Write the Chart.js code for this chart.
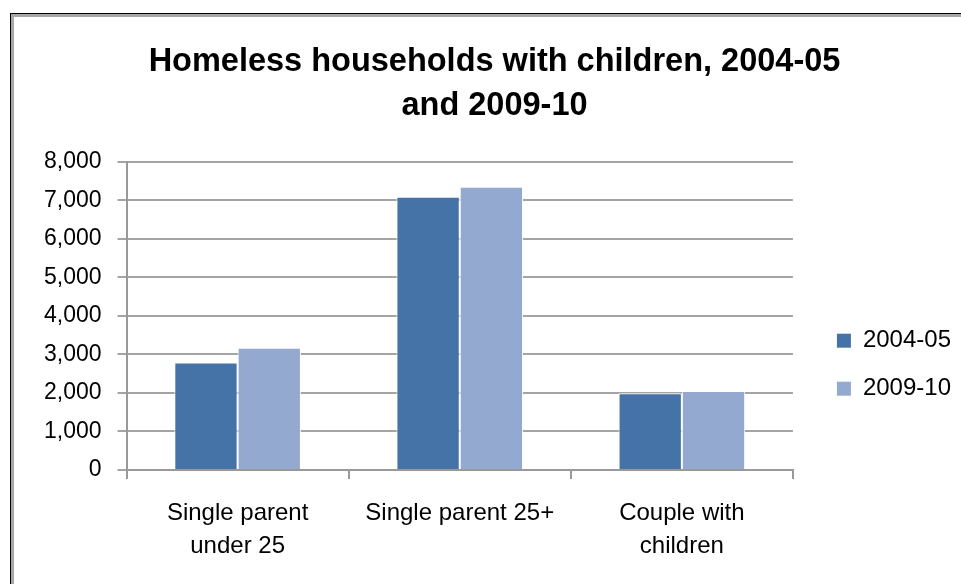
<!DOCTYPE html>
<html>
<head>
<meta charset="utf-8">
<script src="https://cdn.jsdelivr.net/npm/chart.js@4"></script>
<style>
    html, body { margin: 0; padding: 0; background: #fff; overflow: hidden; }
    #frame {
        position: absolute;
        left: 10px; top: 13px;
        width: 980px; height: 600px;
        border: 1px solid #000;
        box-shadow: inset 3px 3px 0 #a8a8a8;
        box-sizing: border-box;
    }
    #wrap { position: absolute; left: 0; top: 0; width: 961px; height: 584px; }
</style>
</head>
<body>
<div id="frame"></div>
<div id="wrap"><canvas id="chart"></canvas></div>
<script>
// Chart data
const categories = [['Single parent', 'under 25'], 'Single parent 25+', ['Couple with', 'children']];
const seriesNames = ['2004-05', '2009-10'];
const values2004 = [2790, 7090, 1990];
const values2009 = [3170, 7350, 2050];
const yTicks = [0, 1000, 2000, 3000, 4000, 5000, 6000, 7000, 8000];

const colors = ['#4572A7', '#93A9CF'];
const font = "'Liberation Sans', Arial, sans-serif";

const ctx = document.getElementById('chart').getContext('2d');
new Chart(ctx, {
    type: 'bar',
    data: {
        labels: categories,
        datasets: [
            {
                label: seriesNames[0],
                data: values2004,
                backgroundColor: colors[0],
                borderColor: '#ffffff',
                borderWidth: 1,
            },
            {
                label: seriesNames[1],
                data: values2009,
                backgroundColor: colors[1],
                borderColor: '#ffffff',
                borderWidth: 1,
            }
        ]
    },
    options: {
        responsive: true,
        maintainAspectRatio: false,
        animation: false,
        categoryPercentage: 0.57,
        barPercentage: 1.0,
        layout: {
            padding: { left: 28, right: 0, top: 40, bottom: 3 }
        },
        plugins: {
            title: {
                display: true,
                text: ['Homeless households with children, 2004-05', 'and 2009-10'],
                color: '#000',
                font: { family: font, size: 32.5, weight: 'bold', lineHeight: 1.35 },
                padding: { top: 0, bottom: 34 }
            },
            legend: {
                position: 'right',
                // empty title only pushes the items down
                title: {
                    display: true,
                    text: ' ',
                    font: { size: 12, lineHeight: 1.2 },
                    padding: { top: 47, bottom: 47 }
                },
                labels: {
                    color: '#000',
                    font: { family: font, size: 24 },
                    boxWidth: 14,
                    boxHeight: 14,
                    padding: 24,
                    generateLabels: (chart) => chart.data.datasets.map((ds, i) => ({
                        text: ds.label,
                        fillStyle: ds.backgroundColor,
                        strokeStyle: ds.backgroundColor,
                        lineWidth: 0,
                        datasetIndex: i,
                        fontColor: '#000'
                    }))
                }
            },
            tooltip: { enabled: false }
        },
        scales: {
            x: {
                grid: {
                    offset: true,
                    drawOnChartArea: false,
                    color: '#999',
                    lineWidth: 2,
                    tickLength: 9
                },
                border: { color: '#999', width: 2 },
                ticks: {
                    color: '#000',
                    font: { family: font, size: 24, lineHeight: 1.375 },
                    padding: 18,
                    maxRotation: 0
                }
            },
            y: {
                min: 0,
                max: 8000,
                afterBuildTicks: (axis) => { axis.ticks = yTicks.map(v => ({ value: v })); },
                grid: {
                    color: '#a4a4a4',
                    lineWidth: 2,
                    tickLength: 9
                },
                border: { color: '#999', width: 2 },
                ticks: {
                    color: '#000',
                    font: { family: font, size: 23 },
                    padding: 16,
                    callback: (v) => v.toLocaleString('en-US')
                }
            },
            // spacer between plot and legend
            gap: {
                position: 'right',
                display: true,
                grid: { display: false },
                border: { display: false },
                ticks: { display: false },
                afterFit: (axis) => { axis.width = 20; }
            }
        }
    }
});
</script>
</body>
</html>
